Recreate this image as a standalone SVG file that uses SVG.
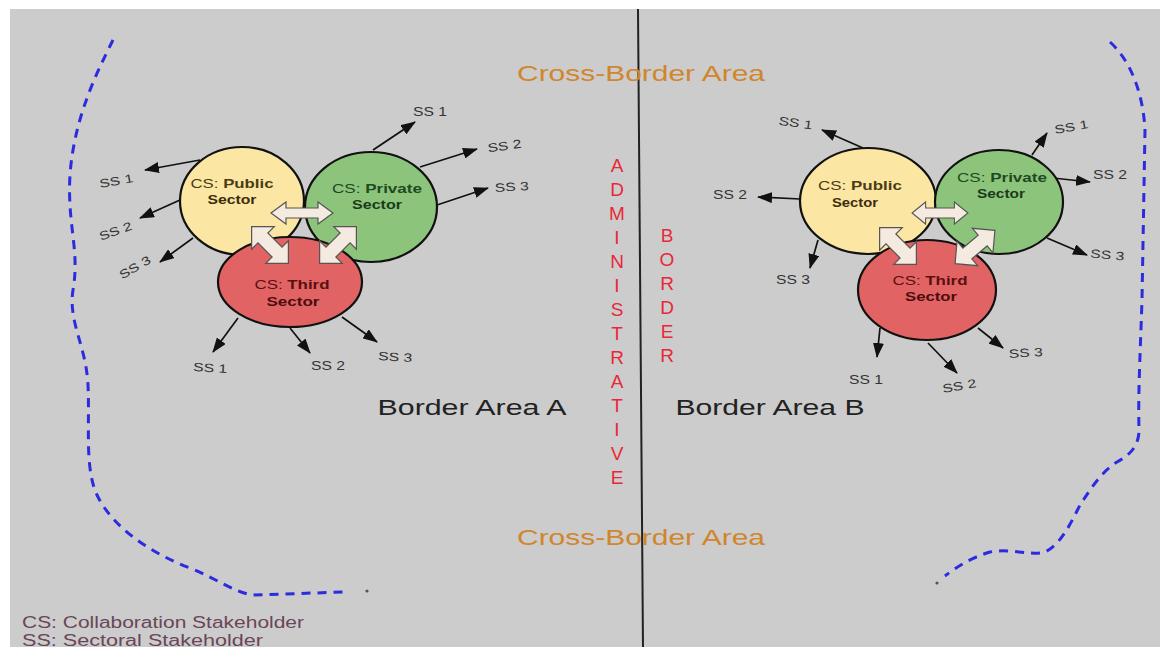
<svg xmlns="http://www.w3.org/2000/svg" width="1160" height="647" viewBox="0 0 1160 647">
<defs>
<style>
.bg{fill:#cccccc}
.cs{stroke:#111;stroke-width:2.2}
.pub{fill:#fbe6a3}
.pri{fill:#8cc47c}
.thi{fill:#e26363}
.conn{stroke:#111;stroke-width:1.7;fill:none;marker-end:url(#ah)}
.blk{fill:#f4eadf;stroke:#555;stroke-width:1.2}
.ss{font-family:"Liberation Sans",Arial,sans-serif;font-size:12px;fill:#333;text-anchor:middle}
.lbl{font-family:"Liberation Sans",Arial,sans-serif;font-size:13.5px;text-anchor:middle}
.b{font-weight:bold}
.dash{fill:none;stroke:#2b2be0;stroke-width:3;stroke-dasharray:9 7}
.cba{font-family:"Liberation Sans",Arial,sans-serif;font-size:22px;fill:#d0862c;text-anchor:middle}
.ba{font-family:"Liberation Sans",Arial,sans-serif;font-size:22px;fill:#222;text-anchor:middle}
.red{font-family:"Liberation Sans",Arial,sans-serif;font-size:19px;fill:#e8283a;text-anchor:middle}
.leg{font-family:"Liberation Sans",Arial,sans-serif;font-size:16px;fill:#6a4657}
</style>
<marker id="ah" markerWidth="15" markerHeight="11" refX="14" refY="5.5" orient="auto" markerUnits="userSpaceOnUse"><path d="M0,0 L15,5.5 L0,11 Z" fill="#111"/></marker>
<path id="hdbl" d="M-31,0 L-16,-11 L-16,-5 L16,-5 L16,-11 L31,0 L16,11 L16,5 L-16,5 L-16,11 Z"/>
<path id="ddbl" d="M-26,0 L-10,-16 L-10,-7 L10,-7 L10,-16 L26,0 L10,16 L10,7 L-10,7 L-10,16 Z"/>
</defs>
<rect class="bg" x="10" y="9" width="1150" height="638"/>
<line x1="638" y1="9" x2="643" y2="647" stroke="#222" stroke-width="2"/>
<g id="boundaries">
<path class="dash" d="M113,40 C97,72 74,118 70,175 C67,225 80,250 73,290 C68,322 86,345 88,385 C90,425 84,470 98,497 C113,527 150,553 190,568 C215,578 232,591 252,595 L345,592"/>
<circle cx="367" cy="591" r="1.6" fill="#555"/>
<path class="dash" d="M1110,42 C1130,60 1143,92 1145,130 L1142,300 C1140,360 1138,395 1139,430 C1139,446 1130,455 1117,462 C1100,473 1090,490 1080,505 C1070,525 1060,545 1045,552 C1030,556 1010,548 990,552 C970,558 955,568 945,576"/>
<circle cx="937" cy="583" r="1.6" fill="#555"/>
</g>
<g id="texts">
<text class="cba" x="641" y="81" textLength="248" lengthAdjust="spacingAndGlyphs">Cross-Border Area</text>
<text class="cba" x="641" y="545" textLength="248" lengthAdjust="spacingAndGlyphs">Cross-Border Area</text>
<text class="ba" x="472" y="415" textLength="189" lengthAdjust="spacingAndGlyphs">Border Area A</text>
<text class="ba" x="770" y="415" textLength="189" lengthAdjust="spacingAndGlyphs">Border Area B</text>
<g class="red">
<text x="617" y="172">A</text><text x="617" y="196">D</text><text x="617" y="220">M</text><text x="617" y="244">I</text><text x="617" y="268">N</text><text x="617" y="292">I</text><text x="617" y="316">S</text><text x="617" y="340">T</text><text x="617" y="364">R</text><text x="617" y="388">A</text><text x="617" y="412">T</text><text x="617" y="436">I</text><text x="617" y="460">V</text><text x="617" y="484">E</text>
<text x="667" y="242">B</text><text x="667" y="266">O</text><text x="667" y="290">R</text><text x="667" y="314">D</text><text x="667" y="338">E</text><text x="667" y="362">R</text>
</g>
<text class="leg" x="22" y="628" textLength="282" lengthAdjust="spacingAndGlyphs">CS: Collaboration Stakeholder</text>
<text class="leg" x="22" y="646" textLength="241" lengthAdjust="spacingAndGlyphs">SS: Sectoral Stakeholder</text>
</g>
<g id="connectors">
<line class="conn" x1="200" y1="160" x2="145" y2="170"/>
<line class="conn" x1="180" y1="200" x2="140" y2="218"/>
<line class="conn" x1="193" y1="238" x2="160" y2="262"/>
<line class="conn" x1="373" y1="150" x2="415" y2="122"/>
<line class="conn" x1="420" y1="167" x2="477" y2="149"/>
<line class="conn" x1="437" y1="205" x2="488" y2="188"/>
<line class="conn" x1="238" y1="318" x2="213" y2="352"/>
<line class="conn" x1="290" y1="328" x2="310" y2="353"/>
<line class="conn" x1="342" y1="317" x2="377" y2="342"/>
<line class="conn" x1="863" y1="148" x2="822" y2="130"/>
<line class="conn" x1="800" y1="199" x2="758" y2="197"/>
<line class="conn" x1="818" y1="240" x2="810" y2="268"/>
<line class="conn" x1="1032" y1="155" x2="1047" y2="133"/>
<line class="conn" x1="1053" y1="178" x2="1090" y2="182"/>
<line class="conn" x1="1047" y1="238" x2="1087" y2="255"/>
<line class="conn" x1="880" y1="328" x2="877" y2="357"/>
<line class="conn" x1="928" y1="343" x2="957" y2="373"/>
<line class="conn" x1="978" y1="328" x2="1003" y2="348"/>
</g>
<g id="ss-labels" class="ss">
<text transform="translate(117,185) rotate(-10)" textLength="34" lengthAdjust="spacingAndGlyphs">SS 1</text>
<text transform="translate(117,235) rotate(-20)" textLength="34" lengthAdjust="spacingAndGlyphs">SS 2</text>
<text transform="translate(137,271) rotate(-30)" textLength="34" lengthAdjust="spacingAndGlyphs">SS 3</text>
<text transform="translate(430,116)" textLength="34" lengthAdjust="spacingAndGlyphs">SS 1</text>
<text transform="translate(505,150) rotate(-8)" textLength="34" lengthAdjust="spacingAndGlyphs">SS 2</text>
<text transform="translate(512,191) rotate(-3)" textLength="34" lengthAdjust="spacingAndGlyphs">SS 3</text>
<text transform="translate(210,372) rotate(3)" textLength="34" lengthAdjust="spacingAndGlyphs">SS 1</text>
<text transform="translate(328,370)" textLength="34" lengthAdjust="spacingAndGlyphs">SS 2</text>
<text transform="translate(395,361) rotate(3)" textLength="34" lengthAdjust="spacingAndGlyphs">SS 3</text>
<text transform="translate(795,127) rotate(8)" textLength="34" lengthAdjust="spacingAndGlyphs">SS 1</text>
<text transform="translate(730,199)" textLength="34" lengthAdjust="spacingAndGlyphs">SS 2</text>
<text transform="translate(793,284)" textLength="34" lengthAdjust="spacingAndGlyphs">SS 3</text>
<text transform="translate(1072,131) rotate(-10)" textLength="34" lengthAdjust="spacingAndGlyphs">SS 1</text>
<text transform="translate(1110,179)" textLength="34" lengthAdjust="spacingAndGlyphs">SS 2</text>
<text transform="translate(1107,259) rotate(5)" textLength="34" lengthAdjust="spacingAndGlyphs">SS 3</text>
<text transform="translate(866,384)" textLength="34" lengthAdjust="spacingAndGlyphs">SS 1</text>
<text transform="translate(960,390) rotate(-10)" textLength="34" lengthAdjust="spacingAndGlyphs">SS 2</text>
<text transform="translate(1026,357) rotate(-3)" textLength="34" lengthAdjust="spacingAndGlyphs">SS 3</text>
</g>
<g id="A-public">
<ellipse class="cs pub" cx="242" cy="201" rx="62" ry="54"/>
<text class="lbl" x="232" y="188" fill="#4a3c12" textLength="83" lengthAdjust="spacingAndGlyphs">CS: <tspan class="b">Public</tspan></text>
<text class="lbl b" x="232" y="204" fill="#3a2c0c" textLength="49" lengthAdjust="spacingAndGlyphs">Sector</text>
</g>
<g id="A-private">
<ellipse class="cs pri" cx="371" cy="207" rx="66" ry="55"/>
<text class="lbl" x="377" y="193" fill="#1f4a1f" textLength="90" lengthAdjust="spacingAndGlyphs">CS: <tspan class="b">Private</tspan></text>
<text class="lbl b" x="377" y="209" fill="#1a3a1a" textLength="50" lengthAdjust="spacingAndGlyphs">Sector</text>
</g>
<g id="A-third">
<ellipse class="cs thi" cx="290" cy="282" rx="72" ry="45"/>
<text class="lbl" x="292" y="289" fill="#5a1010" textLength="75" lengthAdjust="spacingAndGlyphs">CS: <tspan class="b">Third</tspan></text>
<text class="lbl b" x="293" y="306" fill="#4a0e0e" textLength="53" lengthAdjust="spacingAndGlyphs">Sector</text>
</g>
<g id="A-links">
<use href="#hdbl" class="blk" transform="translate(302,213)"/>
<use href="#ddbl" class="blk" transform="translate(270,245) rotate(45)"/>
<use href="#ddbl" class="blk" transform="translate(338,245) rotate(135)"/>
</g>
<g id="B-public">
<ellipse class="cs pub" cx="868" cy="201" rx="68" ry="53"/>
<text class="lbl" x="860" y="190" fill="#4a3c12" textLength="84" lengthAdjust="spacingAndGlyphs">CS: <tspan class="b">Public</tspan></text>
<text class="lbl b" x="855" y="207" fill="#3a2c0c" textLength="46" lengthAdjust="spacingAndGlyphs">Sector</text>
</g>
<g id="B-private">
<ellipse class="cs pri" cx="999" cy="202" rx="64" ry="52"/>
<text class="lbl" x="1002" y="182" fill="#1f4a1f" textLength="90" lengthAdjust="spacingAndGlyphs">CS: <tspan class="b">Private</tspan></text>
<text class="lbl b" x="1001" y="198" fill="#1a3a1a" textLength="48" lengthAdjust="spacingAndGlyphs">Sector</text>
</g>
<g id="B-third">
<ellipse class="cs thi" cx="927" cy="290" rx="69" ry="50"/>
<text class="lbl" x="930" y="285" fill="#5a1010" textLength="75" lengthAdjust="spacingAndGlyphs">CS: <tspan class="b">Third</tspan></text>
<text class="lbl b" x="931" y="301" fill="#4a0e0e" textLength="52" lengthAdjust="spacingAndGlyphs">Sector</text>
</g>
<g id="B-links">
<use href="#hdbl" class="blk" transform="translate(940,213) scale(0.9,1)"/>
<use href="#ddbl" class="blk" transform="translate(898,246) rotate(45)"/>
<use href="#ddbl" class="blk" transform="translate(975,247) rotate(140)"/>
</g>
</svg>
